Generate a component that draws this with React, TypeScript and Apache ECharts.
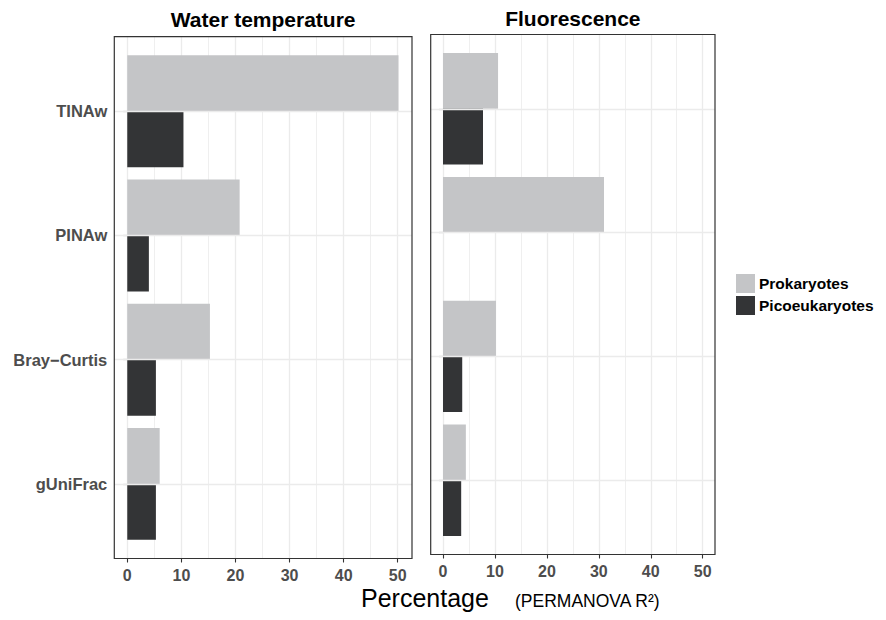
import React, { useEffect, useRef } from "react";
import * as echarts from "echarts";

// ---- data ----
const categories = ["TINAw", "PINAw", "Bray\u2212Curtis", "gUniFrac"];
const seriesNames = ["Prokaryotes", "Picoeukaryotes"];
const panelTitles = ["Water temperature", "Fluorescence"];
const waterProk = [50.2, 20.8, 15.3, 6.0];
const waterPico = [10.4, 4.0, 5.3, 5.3];
const fluoProk = [10.6, 31.0, 10.2, 4.4];
const fluoPico: (number | null)[] = [7.7, null, 3.7, 3.5];
const xTickMin = 0;
const xTickMax = 50;
const xTickStep = 10;

const FONT = "'Liberation Sans', Arial, Helvetica, sans-serif";
const PROK_COLOR = "#c4c5c7";
const PICO_COLOR = "#333436";
const GRID_COLOR = "#ebebeb";
const BORDER_COLOR = "#333333";
const AXIS_TEXT = "#4d4d4d";
const TRANSPARENT = "rgba(0,0,0,0)";

// layout of the two panels (pixels)
const panels = [
  {
    frame: { x: 114.3, y: 36.7, w: 297.7, h: 521.8 },
    xMin: -2.4,
    xMax: 52.7,
    tick0: 127.3,
    tick50: 397.7,
    titleY: 19.5,
    showLabels: true,
    data: [waterProk, waterPico],
  },
  {
    frame: { x: 430.7, y: 34.5, w: 284.3, h: 520 },
    xMin: -2.37,
    xMax: 52.37,
    tick0: 443,
    tick50: 702.7,
    titleY: 18.5,
    showLabels: false,
    data: [fluoProk, fluoPico],
  },
];

const W = 886;
const H = 620;

function buildOption() {
  const grid: any[] = [];
  const xAxis: any[] = [];
  const yAxis: any[] = [];
  const series: any[] = [];
  const graphic: any[] = [];

  panels.forEach((p, i) => {
    const f = p.frame;
    const unit = f.h / 4.2; // discrete axis with 0.6 expansion on each side
    // grid A: frame-height grid for vertical grid lines and x labels
    grid.push({
      left: p.tick0,
      width: p.tick50 - p.tick0,
      top: f.y,
      height: f.h,
    });
    // grid B: bars
    grid.push({
      left: f.x,
      width: f.w,
      top: f.y + 0.1 * unit,
      height: 4 * unit,
    });
    const a = i * 2;
    const b = i * 2 + 1;
    xAxis.push({
      gridIndex: a,
      type: "value",
      min: xTickMin,
      max: xTickMax,
      interval: xTickStep,
      position: "bottom",
      axisLine: { show: true, onZero: false, lineStyle: { color: TRANSPARENT } },
      axisTick: { show: true, length: 4, lineStyle: { color: BORDER_COLOR, width: 1.1 } },
      axisLabel: {
        show: true,
        margin: 9,
        fontFamily: FONT,
        fontSize: 16,
        fontWeight: "bold",
        color: AXIS_TEXT,
      },
      splitLine: { show: true, lineStyle: { color: GRID_COLOR, width: 1.3 } },
      minorTick: { show: false, splitNumber: 2 },
      minorSplitLine: { show: true, lineStyle: { color: GRID_COLOR, width: 0.8 } },
    });
    yAxis.push({
      gridIndex: a,
      type: "value",
      min: 0,
      max: 1,
      show: false,
      splitLine: { show: false },
    });
    xAxis.push({
      gridIndex: b,
      type: "value",
      min: p.xMin,
      max: p.xMax,
      show: false,
      splitLine: { show: false },
    });
    yAxis.push({
      gridIndex: b,
      type: "category",
      inverse: true,
      data: categories,
      axisLine: { show: true, lineStyle: { color: TRANSPARENT } },
      axisTick: {
        show: true,
        alignWithLabel: true,
        length: 4,
        lineStyle: { color: BORDER_COLOR, width: 1.1 },
      },
      axisLabel: {
        show: p.showLabels,
        margin: 7,
        fontFamily: FONT,
        fontSize: 16.5,
        fontWeight: "bold",
        color: AXIS_TEXT,
      },
      splitLine: { show: false },
    });
    // horizontal grid lines at categories (behind bars)
    series.push({
      type: "line",
      xAxisIndex: b,
      yAxisIndex: b,
      data: categories.map((c) => [0, c]),
      symbol: "none",
      lineStyle: { opacity: 0 },
      silent: true,
      z: 1,
      markLine: {
        silent: true,
        symbol: ["none", "none"],
        label: { show: false },
        lineStyle: { color: GRID_COLOR, width: 1.3, type: "solid" },
        data: categories.map((c) => ({ yAxis: c })),
      },
    });
    p.data.forEach((vals, k) => {
      series.push({
        name: seriesNames[k],
        type: "bar",
        xAxisIndex: b,
        yAxisIndex: b,
        data: vals,
        barGap: "0%",
        barCategoryGap: "10%",
        itemStyle: { color: k === 0 ? PROK_COLOR : PICO_COLOR },
        z: 2,
      });
    });
    graphic.push({
      type: "rect",
      shape: { x: f.x, y: f.y, width: f.w, height: f.h },
      style: { fill: "none", stroke: BORDER_COLOR, lineWidth: 1.2 },
      z: 100,
      silent: true,
    });
    graphic.push({
      type: "text",
      x: f.x + f.w / 2,
      y: p.titleY,
      style: {
        text: panelTitles[i],
        fontFamily: FONT,
        fontSize: 21,
        fontWeight: "bold",
        fill: "#000",
        align: "center",
        verticalAlign: "middle",
      },
      z: 100,
    });
  });

  graphic.push({
    type: "text",
    x: 361,
    y: 598,
    style: {
      text: "Percentage",
      fontFamily: FONT,
      fontSize: 25,
      fill: "#000",
      align: "left",
      verticalAlign: "middle",
    },
  });
  graphic.push({
    type: "text",
    x: 515,
    y: 600.5,
    style: {
      text: "(PERMANOVA R\u00b2)",
      fontFamily: FONT,
      fontSize: 17.5,
      fill: "#000",
      align: "left",
      verticalAlign: "middle",
    },
  });

  return {
    animation: false,
    backgroundColor: "#ffffff",
    grid,
    xAxis,
    yAxis,
    series,
    graphic,
    legend: {
      data: seriesNames,
      orient: "vertical",
      left: 736,
      top: 274,
      padding: 0,
      itemWidth: 19,
      itemHeight: 19,
      itemGap: 3,
      icon: "rect",
      selectedMode: false,
      textStyle: {
        fontFamily: FONT,
        fontSize: 15.5,
        fontWeight: "bold",
        color: "#000",
        padding: [0, 0, 0, -1],
      },
    },
  };
}

export default function App() {
  const ref = useRef<HTMLDivElement>(null);
  useEffect(() => {
    if (!ref.current) return;
    const chart = echarts.init(ref.current, null, { renderer: "svg" });
    chart.setOption(buildOption() as any);
    return () => {
      chart.dispose();
    };
  }, []);
  return (
    <div
      ref={ref}
      style={{ position: "fixed", left: 0, top: 0, width: W, height: H, background: "#fff" }}
    />
  );
}
